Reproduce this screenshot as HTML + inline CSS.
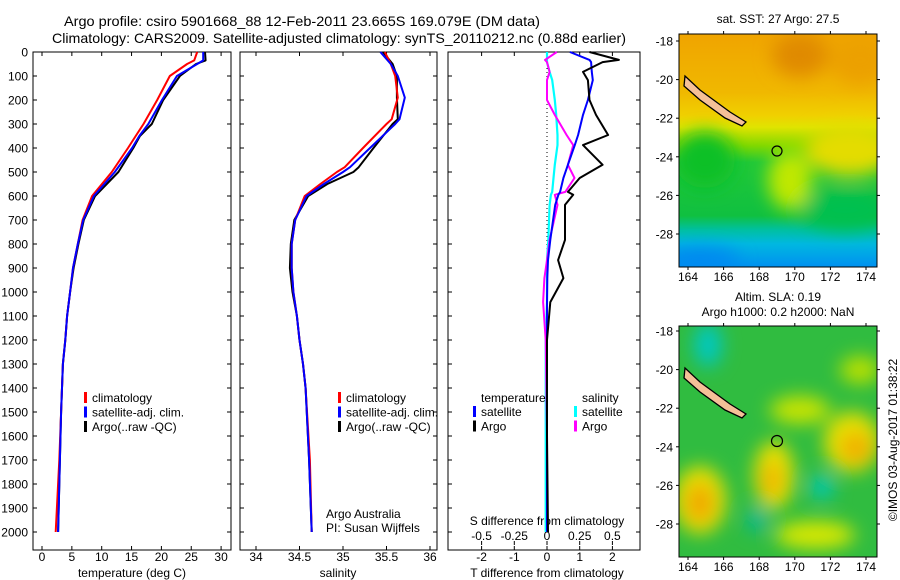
<!DOCTYPE html>
<html><head><meta charset="utf-8"><style>
html,body{margin:0;padding:0;background:#fff;}
svg{display:block;font-family:"Liberation Sans",sans-serif;}
text{fill:#000;}
</style></head><body>
<svg id="fig" width="900" height="580" viewBox="0 0 900 580">
<defs>
<filter id="blr" x="-50%" y="-50%" width="200%" height="200%"><feGaussianBlur stdDeviation="9"/></filter>
<clipPath id="c1"><rect x="679" y="34" width="198" height="233"/></clipPath>
<clipPath id="c2"><rect x="679" y="326" width="198" height="231"/></clipPath>
<linearGradient id="g1" x1="0" y1="0" x2="0" y2="1">
<stop offset="0" stop-color="#f0a400"/><stop offset="0.25" stop-color="#f0b800"/><stop offset="0.35" stop-color="#f0d000"/><stop offset="0.4" stop-color="#e0e400"/><stop offset="0.48" stop-color="#80d800"/><stop offset="0.55" stop-color="#20c838"/><stop offset="0.78" stop-color="#10c040"/><stop offset="0.84" stop-color="#00c0a0"/><stop offset="0.9" stop-color="#00b8e0"/><stop offset="1" stop-color="#0090f0"/>
</linearGradient>
</defs>
<text x="64" y="26" font-size="14" textLength="476" lengthAdjust="spacingAndGlyphs">Argo profile: csiro 5901668_88 12-Feb-2011 23.665S 169.079E (DM data)</text>
<text x="52" y="43" font-size="14" textLength="574" lengthAdjust="spacingAndGlyphs">Climatology: CARS2009. Satellite-adjusted climatology: synTS_20110212.nc (0.88d earlier)</text>
<g id="p1"></g>
<g id="p2"></g>
<g id="p3"></g>

<!-- map 1 -->
<g>
<text x="778" y="23" font-size="12" text-anchor="middle">sat. SST: 27 Argo: 27.5</text>
<g clip-path="url(#c1)">
<rect x="679" y="34" width="198" height="233" fill="url(#g1)"/>
<g filter="url(#blr)">
<ellipse cx="800" cy="55" rx="28" ry="22" fill="#e08a00"/>
<ellipse cx="860" cy="60" rx="30" ry="25" fill="#eca000"/>
<ellipse cx="850" cy="150" rx="45" ry="26" fill="#e4dc00"/>
<ellipse cx="790" cy="180" rx="22" ry="30" fill="#c0e800"/>
<ellipse cx="705" cy="160" rx="30" ry="28" fill="#10c028"/>
<ellipse cx="845" cy="210" rx="45" ry="20" fill="#00c050"/>
<ellipse cx="700" cy="260" rx="40" ry="12" fill="#0088f0"/>
</g>
<path d="M685,76 L700,90 L730,112 L746,122 L742,126 L725,118 L700,100 L684,86 Z" fill="#f5c098" stroke="#000" stroke-width="1.3"/>
<circle cx="777" cy="151" r="5" fill="none" stroke="#000" stroke-width="1.2"/>
</g>
<rect x="679" y="34" width="198" height="233" fill="none" stroke="#000"/>
</g>

<!-- map 2 -->
<g>
<text x="778" y="301" font-size="12" text-anchor="middle">Altim. SLA: 0.19</text>
<text x="778" y="316" font-size="12" text-anchor="middle">Argo h1000: 0.2 h2000: NaN</text>
<g clip-path="url(#c2)">
<rect x="679" y="326" width="198" height="231" fill="#30bc40"/>
<g filter="url(#blr)">
<ellipse cx="708" cy="345" rx="14" ry="22" fill="#00c8c0"/>
<ellipse cx="700" cy="500" rx="26" ry="34" fill="#e8e000"/>
<ellipse cx="700" cy="503" rx="14" ry="20" fill="#f0a800"/>
<ellipse cx="774" cy="475" rx="20" ry="34" fill="#e8e000"/>
<ellipse cx="772" cy="480" rx="10" ry="18" fill="#f0b400"/>
<ellipse cx="852" cy="442" rx="28" ry="30" fill="#e8e000"/>
<ellipse cx="856" cy="448" rx="16" ry="16" fill="#f0b000"/>
<ellipse cx="800" cy="410" rx="30" ry="14" fill="#c8e400"/>
<ellipse cx="815" cy="535" rx="40" ry="14" fill="#d8e800"/>
<ellipse cx="822" cy="487" rx="12" ry="12" fill="#00c8b8"/>
<ellipse cx="757" cy="520" rx="10" ry="12" fill="#00b8a0"/>
<ellipse cx="860" cy="370" rx="20" ry="14" fill="#b8e000"/>
</g>
<path d="M685,368 L700,382 L730,404 L746,414 L742,418 L725,410 L700,392 L684,378 Z" fill="#f5c098" stroke="#000" stroke-width="1.3"/>
<circle cx="777" cy="441" r="5.5" fill="none" stroke="#000" stroke-width="1.2"/>
</g>
<rect x="679" y="326" width="198" height="231" fill="none" stroke="#000"/>
</g>
<text transform="translate(897,440) rotate(-90)" font-size="12" text-anchor="middle">©IMOS 03-Aug-2017 01:38:22</text>
<g id="mapaxes"></g>
</svg>
<script>
// ---- data ----
const depthT = [0, 35, 50, 100, 200, 300, 350, 400, 500, 600, 700, 800, 900, 1000, 1100, 1200, 1300, 1400, 1500, 1700, 2000];
const tempArgo = [27.3, 27.4, 25.8, 23.1, 20.3, 18.4, 16.4, 15.3, 12.8, 8.9, 7.0, 6.1, 5.3, 4.7, 4.2, 3.9, 3.5, 3.35, 3.2, 3.0, 2.7];
const tempClim = [26.0, 25.5, 24.3, 21.4, 19.3, 17.0, 15.7, 14.4, 11.7, 8.4, 6.8, 6.0, 5.2, 4.7, 4.2, 3.9, 3.5, 3.35, 3.2, 2.9, 2.3];
const tempSat = [27.0, 27.0, 26.0, 22.6, 20.1, 17.8, 16.3, 15.1, 12.2, 8.7, 6.9, 6.0, 5.2, 4.7, 4.2, 3.9, 3.5, 3.35, 3.2, 3.0, 2.7];
const depthS = [0, 50, 100, 190, 280, 300, 400, 480, 500, 550, 600, 700, 800, 900, 1000, 1100, 1200, 1300, 1400, 1700, 2000];
const salArgo = [35.46, 35.57, 35.62, 35.62, 35.63, 35.57, 35.35, 35.18, 35.12, 34.82, 34.60, 34.44, 34.40, 34.39, 34.42, 34.47, 34.50, 34.54, 34.57, 34.61, 34.64];
const salClim = [35.48, 35.55, 35.60, 35.63, 35.56, 35.50, 35.23, 35.02, 34.93, 34.74, 34.56, 34.45, 34.41, 34.41, 34.43, 34.47, 34.50, 34.54, 34.57, 34.62, 34.64];
const salSat = [35.43, 35.55, 35.63, 35.71, 35.65, 35.60, 35.31, 35.08, 35.00, 34.78, 34.58, 34.45, 34.41, 34.41, 34.43, 34.47, 34.50, 34.54, 34.57, 34.61, 34.64];
const depthD = [0, 33, 42, 83, 117, 200, 262, 346, 388, 470, 525, 583, 595, 637, 783, 867, 942, 1042, 1200, 1600, 2000];
const dTArgo = [1.3, 2.2, 1.7, 1.1, 1.25, 1.3, 1.5, 1.87, 1.1, 1.7, 1.0, 0.64, 0.8, 0.55, 0.55, 0.34, 0.5, 0.1, 0.0, 0.0, 0.03];
const dTSat = [0.7, 1.3, 1.35, 1.37, 1.4, 1.25, 1.1, 0.95, 0.85, 0.64, 0.5, 0.4, 0.35, 0.25, 0.1, 0.03, 0.01, 0.0, 0.0, 0.0, 0.0];
const dSArgo = [0.075, -0.015, 0.0, 0.02, 0.0, 0.0, 0.06, 0.15, 0.2, 0.16, 0.21, 0.14, 0.06, 0.08, 0.02, 0.0, -0.02, -0.03, -0.01, 0.0, 0.0];
const dSSat = [0.0, 0.0, 0.0, 0.02, 0.04, 0.06, 0.07, 0.08, 0.08, 0.06, 0.05, 0.04, 0.03, 0.02, 0.01, 0.0, 0.0, 0.0, -0.01, -0.01, -0.01];
const depthTicks = [0,100,200,300,400,500,600,700,800,900,1000,1100,1200,1300,1400,1500,1600,1700,1800,1900,2000];
const tTicks = [0,5,10,15,20,25,30];
const sTicks = [34,34.5,35,35.5,36];
const sTickLabels = ["34","34.5","35","35.5","36"];
const dTTicks = [-2,-1,0,1,2];
const dSTicks = [-0.5,-0.25,0,0.25,0.5];
const dSTickLabels = ["-0.5","-0.25","0","0.25","0.5"];
const lonTicks = [164,166,168,170,172,174];
const latTicks = [-18,-20,-22,-24,-26,-28];

const NS = "http://www.w3.org/2000/svg";
const TOP = 52, BOT = 550;
const yD = d => TOP + d * 0.24;
const xT = t => 42 + t * 5.97;
const xS = s => 256 + (s - 34) * 87;
const xDT = t => 547 + t * 32.7;
const xDS = s => 547 + s * 130.8;
function mk(tag, attrs, parent) {
  const e = document.createElementNS(NS, tag);
  for (const k in attrs) e.setAttribute(k, attrs[k]);
  parent.appendChild(e);
  return e;
}
function txt(str, x, y, anchor, size, parent) {
  const t = mk('text', {x: x, y: y, 'text-anchor': anchor, 'font-size': size}, parent);
  t.textContent = str;
  return t;
}
function line(depths, vals, xf, color, parent, name, w) {
  const pts = depths.map((d, i) => xf(vals[i]).toFixed(1) + ',' + yD(d).toFixed(1)).join(' ');
  const p = mk('polyline', {points: pts, fill: 'none', stroke: color, 'stroke-width': w || 2, 'stroke-linejoin': 'round'}, parent);
  
  
  return p;
}
function frame(g, x0, x1, name) {
  const r = mk('rect', {x: x0, y: TOP, width: x1 - x0, height: BOT - TOP, fill: 'none', stroke: '#000', 'stroke-width': 1}, g);
  
  
  depthTicks.forEach(d => {
    mk('line', {x1: x0, x2: x0 + 4, y1: yD(d), y2: yD(d), stroke: '#000'}, g);
    mk('line', {x1: x1, x2: x1 - 4, y1: yD(d), y2: yD(d), stroke: '#000'}, g);
  });
}
function xticks(g, ticks, labels, xf) {
  ticks.forEach((t, i) => {
    const x = xf(t);
    mk('line', {x1: x, x2: x, y1: BOT, y2: BOT - 4, stroke: '#000'}, g);
    mk('line', {x1: x, x2: x, y1: TOP, y2: TOP + 4, stroke: '#000'}, g);
    const l = txt(labels[i], x, 561, 'middle', 12, g);
    
    
  });
}
function legend(g, x, y, entries) {
  entries.forEach((e, i) => {
    mk('rect', {x: x, y: y + i * 14.5 - 10, width: 3, height: 11, fill: e[1]}, g);
    const l = txt(e[0], x + 8, y + i * 14.5, 'start', 12, g);
    
    
  });
}
// panel 1
const p1 = document.getElementById('p1');
frame(p1, 33, 231, 'temperature-plot-frame');
depthTicks.forEach(d => {
  const l = txt(String(d), 28, yD(d) + 4.5, 'end', 12, p1);
  
  
});
xticks(p1, tTicks, tTicks.map(String), xT);
const a1 = txt('temperature (deg C)', 132, 577, 'middle', 12, p1);


line(depthT, tempArgo, xT, '#000', p1, 'temperature-argo-line');
line(depthT, tempClim, xT, '#f00', p1, 'temperature-climatology-line');
line(depthT, tempSat, xT, '#00f', p1, 'temperature-satellite-line');
legend(p1, 84, 402, [['climatology','#f00'],['satellite-adj. clim.','#00f'],['Argo(..raw -QC)','#000']]);
// panel 2
const p2 = document.getElementById('p2');
frame(p2, 240, 437, 'salinity-plot-frame');
xticks(p2, sTicks, sTickLabels, xS);
const a2 = txt('salinity', 338, 577, 'middle', 12, p2);


line(depthS, salArgo, xS, '#000', p2, 'salinity-argo-line');
line(depthS, salClim, xS, '#f00', p2, 'salinity-climatology-line');
line(depthS, salSat, xS, '#00f', p2, 'salinity-satellite-line');
legend(p2, 338, 402, [['climatology','#f00'],['satellite-adj. clim.','#00f'],['Argo(..raw -QC)','#000']]);
const c1 = txt('Argo Australia', 326, 518, 'start', 12, p2);


const c2 = txt('PI: Susan Wijffels', 326, 532, 'start', 12, p2);


// panel 3
const p3 = document.getElementById('p3');
frame(p3, 448, 640, 'difference-plot-frame');
xticks(p3, dTTicks, dTTicks.map(String), xDT);
dSTicks.forEach((s, i) => {
  const x = xDS(s);
  mk('line', {x1: x, x2: x, y1: 545, y2: 541, stroke: '#000'}, p3);
  const l = txt(dSTickLabels[i], x, 540, 'middle', 12, p3);
  
  
});
const a3 = txt('S difference from climatology', 547, 525, 'middle', 12, p3);


const a4 = txt('T difference from climatology', 547, 577, 'middle', 12, p3);


mk('line', {x1: 547, x2: 547, y1: TOP, y2: 260, stroke: '#000', 'stroke-dasharray': '1,3'}, p3);
line(depthD, dSSat, xDS, '#0ff', p3, 's-diff-satellite-line', 2.2);
line(depthD, dSArgo, xDS, '#f0f', p3, 's-diff-argo-line', 2);
line(depthD, dTSat, xDT, '#00f', p3, 't-diff-satellite-line', 2);
line(depthD, dTArgo, xDT, '#000', p3, 't-diff-argo-line', 2);
const lt = txt('temperature', 481, 402, 'start', 12, p3);


legend(p3, 473, 416, [['satellite','#00f'],['Argo','#000']]);
const ls = txt('salinity', 582, 402, 'start', 12, p3);


legend(p3, 574, 416, [['satellite','#0ff'],['Argo','#f0f']]);
// map axes
const ma = document.getElementById('mapaxes');
const lonX = lon => 688 + (lon - 164) * 17.8;
[[34, 267, 41, 281], [326, 557, 331, 571]].forEach((m, k) => {
  lonTicks.forEach(lon => {
    const x = lonX(lon);
    mk('line', {x1: x, x2: x, y1: m[1], y2: m[1] + 3, stroke: '#000'}, ma);
    mk('line', {x1: x, x2: x, y1: m[0], y2: m[0] - 3, stroke: '#000'}, ma);
    const l = txt(String(lon), x, m[3], 'middle', 12, ma);
    
    
  });
  latTicks.forEach(lat => {
    const y = m[2] + (-18 - lat) * 19.3;
    mk('line', {x1: 676, x2: 679, y1: y, y2: y, stroke: '#000'}, ma);
    mk('line', {x1: 877, x2: 880, y1: y, y2: y, stroke: '#000'}, ma);
    const l = txt(String(lat), 673, y + 4.5, 'end', 12, ma);
    
    
  });
});
</script>
</body></html>
